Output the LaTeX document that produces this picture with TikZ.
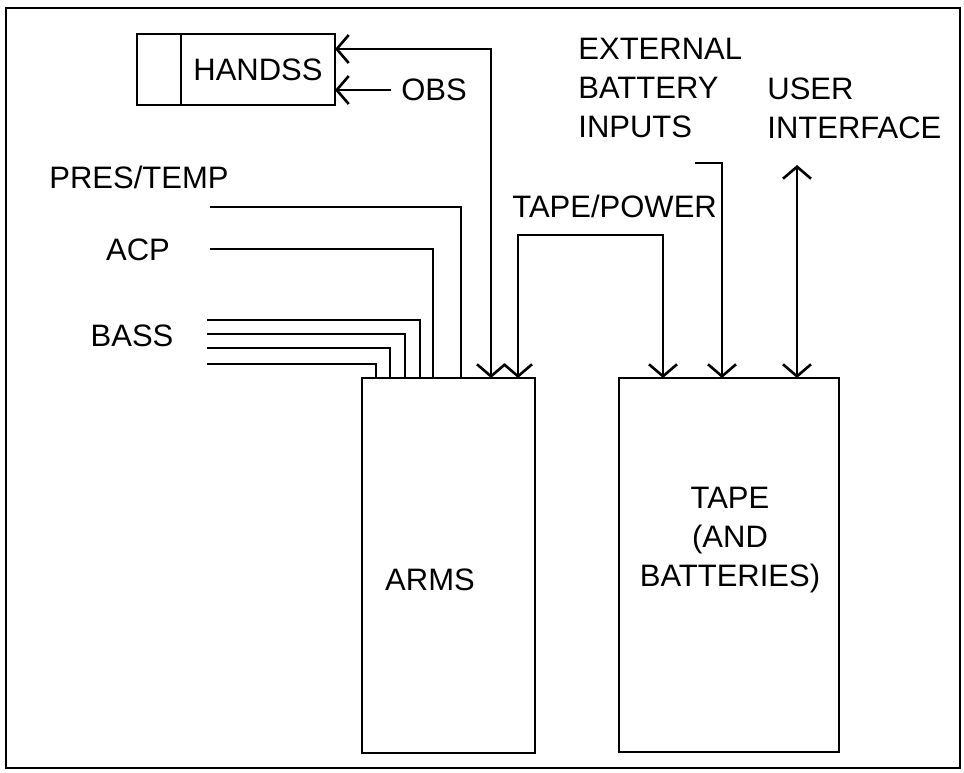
\documentclass[tikz,border=0pt]{standalone}
\usepackage{fontspec}
\setmainfont{Liberation Sans}
\usetikzlibrary{arrows.meta,positioning}
\begin{document}
\begin{tikzpicture}[
    x=0.5pt, y=-0.5pt,
    every node/.style={font=\fontsize{15.5}{19.5}\selectfont, inner sep=2pt},
    box/.style={rectangle, draw=black, line width=1.3pt, outer sep=0pt},
    wire/.style={line width=1.3pt},
    arr/.style={wire, -{Straight Barb[length=6pt, width=14pt]}},
    dbl/.style={wire, {Straight Barb[length=6pt, width=14pt]}-{Straight Barb[length=6pt, width=14pt]}}
]
\useasboundingbox (0,0) rectangle (964,772);
\draw[line width=1pt] (6,8) rectangle (960,768);

\node[box, minimum width=77pt, minimum height=35.5pt] (handss) at (258,69.5) {HANDSS};
\node[box, minimum width=22pt, minimum height=35.5pt, left=0pt of handss] (handsscap) {};
\node[box, minimum width=86.5pt, minimum height=187.5pt] (arms) at (448.5,565.5) {};
\node[box, minimum width=110pt, minimum height=187pt] (tape) at (729,565) {};

\node (armslbl) at (430,580) {ARMS};
\node[align=center] (tapelbl) at (730,540) {TAPE\\(AND\\BATTERIES)};
\node (obs) at (434,90) {OBS};
\node (prestemp) at (139,177) {PRES/TEMP};
\node (acp) at (138,250) {ACP};
\node (bass) at (132,336) {BASS};
\node[anchor=west] (tapepower) at (508,206) {TAPE/POWER};
\node[align=left, anchor=north west, inner sep=0pt] (extbat) at (578,38) {EXTERNAL\\BATTERY\\INPUTS};
\node[align=left, anchor=north west, inner sep=0pt] (user) at (767,77) {USER\\INTERFACE};

\coordinate (presin) at (210,207);
\coordinate (acpin) at (210,249);
\coordinate (extin) at (695,163);
\coordinate (userin) at (797,165);

\draw[dbl] (handss.east |- 0,49) -| (arms.north -| 491,0);
\draw[arr] ([xshift=-3pt]obs.west) -- (obs.west -| handss.east);
\draw[wire] (presin) -| (arms.north -| 461,0);
\draw[wire] (acpin) -| (arms.north -| 433,0);
\foreach \i/\y/\x in {1/320/420, 2/334/405, 3/348/390, 4/364/376}{
  \coordinate (bass\i) at (207,\y);
  \draw[wire] (bass\i) -| (arms.north -| \x,0);
}
\draw[dbl] (arms.north -| 518,0) |- (590,235) -| (tape.north -| 663,0);
\draw[arr] (extin) -| (tape.north -| 722,0);
\draw[dbl] (userin) -- (tape.north -| userin);
\end{tikzpicture}
\end{document}
